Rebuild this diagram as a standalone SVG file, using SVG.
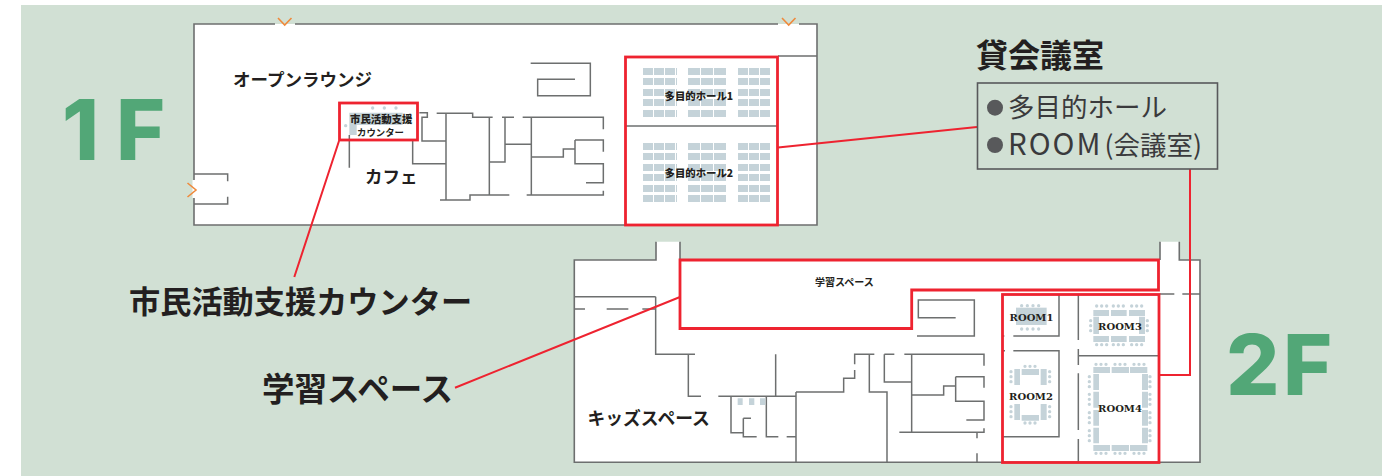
<svg xmlns="http://www.w3.org/2000/svg" width="1392" height="476" viewBox="0 0 1392 476">
<style>
text{font-family:"Noto Sans CJK JP","Liberation Sans",sans-serif;fill:#231f20;font-weight:700}
.z1{transform:translate(180px,0) scale(.33333)}
.z2{transform:translate(565px,235px) scale(.33333)}
.z3{transform:translate(985px,235px) scale(.33333)}
.w{fill:none;stroke:#6d6f6f;stroke-width:1.6}
.zw{fill:none;stroke:#6d6f6f;stroke-width:4.5}
.r{fill:none;stroke:#ee2330;stroke-width:2.8}
.c{fill:none;stroke:#ee2330;stroke-width:2}
.o{fill:none;stroke:#ef8a3c;stroke-width:1.6}
.s{fill:#c5d3d9}
.sr{fill:none;stroke:#c5d3d9;stroke-width:7;stroke-dasharray:10 1}
.d{fill:none;stroke:#c5d3d9;stroke-width:10;stroke-linecap:round;stroke-dasharray:0 15}
.big{font-size:31.2px}
.mid{font-size:17.5px}
.sm{font-size:10.4px;font-weight:900}
.room{font-family:"DejaVu Serif",serif;font-size:10px;text-anchor:middle}
.fl{font-family:Inter,"Liberation Sans",sans-serif;font-size:84px;fill:#52a777;font-weight:800}
.reg{font-size:26.500px;font-weight:400;fill:#3a3a3c}
</style>
<rect x="21" y="5" width="1361" height="471" fill="#d1e0d4"/>

<g id="floor-1f">
<rect x="194" y="24" width="623" height="201" fill="#fff"/>
<path class="w" d="M275,24H194V225H817V24H799M778,24H295M778,56H817"/>
<path d="M194,180V198" stroke="#fff" stroke-width="3"/>
<path class="zw z1" d="M42,522H143V544M42,612H143V590M1052,190H1231V287H1073V238H1185M508,405V503M718,338H742V352H726V423H798M770,340H878V352H938M798,340V600M698,420V491H798M780,600H870V585H988M928,352V585M928,486H975V352M966,352H1002M975,433H1054M1028,352H1270V388M1054,352V585M1040,585H1270V572M1054,471H1150V447H1185M1185,420H1270V455M1185,420V491H1270V548H1218"/>
<path class="o" d="M278,18L284.700,25L291.500,18M782,18L788.700,25L795.500,18M187.500,183L196,190L187.500,197"/>
</g>

<g id="counter">
<path class="s z1" d="M508,338H668V375H530V405H508Z"/>
<path class="d z1" style="stroke-dasharray:0 35" d="M578,324H650"/>
<path class="d z1" d="M497,377H498"/>
<rect class="r" x="339.500" y="103" width="78" height="37"/>
<text class="sm" x="350" y="123">市民活動支援</text>
<text x="357" y="135.500" font-size="9.400" font-weight="900">カウンター</text>
</g>

<g id="hall">
<path class="sr" d="M643,71.500H677M643,81.500H677M643,92.500H677M643,102.500H677M643,113.500H677M643,146.500H677M643,156.500H677M643,167.500H677M643,177.500H677M643,188.500H677M643,198.500H677"/>
<path class="sr" style="stroke-dasharray:12 1" d="M688,71.500H726M688,81.500H726M688,92.500H726M688,102.500H726M688,113.500H726M688,146.500H726M688,156.500H726M688,167.500H726M688,177.500H726M688,188.500H726M688,198.500H726"/>
<path class="sr" d="M738,71.500H770M738,81.500H770M738,92.500H770M738,102.500H770M738,113.500H770M738,146.500H770M738,156.500H770M738,167.500H770M738,177.500H770M738,188.500H770M738,198.500H770"/>
<path class="w" d="M625,126H777"/>
<rect class="r" x="625.500" y="57" width="152" height="168"/>
<text class="sm" x="664.500" y="100">多目的ホール1</text>
<text class="sm" x="664.500" y="177">多目的ホール2</text>
</g>

<text class="mid" x="233" y="86">オープンラウンジ</text>
<text class="mid" x="365" y="183">カフェ</text>

<g id="floor-2f">
<path d="M574.300,260H656V241.700H680V260H1160V241.700H1179.300V260H1200V462.300H574.300Z" fill="#fff"/>
<path class="w" d="M656,241.700V260H574.300V462.300H1200V260H1179.300V241.700M680,241.700V260M1160,241.700V260"/>
<path class="zw z2" d="M30,185H272M272,185V358H390M370,358V484H408M460,484H693M30,222H60M125,222H190M232,222H272M1172,248H1060V195H1228V303H1056M632,358V484M498,484V593H535M535,550H558M535,550V605H575M604,484V605H640M665,605H693M693,471V682M693,471H836V430H869V405M869,388V358H928M913,358V471H966V682M958,358H988M1018,358H1257V392M958,358V441H1040M1040,358V592M1040,480H1136V453H1172M1172,425H1257V458M1172,425V499H1257V555H1204M1003,592H1257V580M1236,592V610M1236,655V682"/>
<path class="s z2" d="M518,490H533V510H518ZM552,490H568V510H552ZM585,490H601V510H585Z"/>
<text x="815" y="285.500" font-size="10" font-weight="900">学習スペース</text>
<text x="587.500" y="425" font-size="17.800">キッズスペース</text>
<path class="r" d="M680,260H1158.500V290H911.700V328.500H680Z"/>
</g>

<g id="rooms">
<path class="zw z3" d="M222,178V303H85M52,303H58M52,347H60M85,347H222V605H52M280,178V315M280,342V390M280,415V585M280,612V682M280,362H520M525,177H568M592,177H645"/>
<g class="z3">
<path class="s" d="M93,218H185V270H93Z"/>
<path class="d" style="stroke-dasharray:0 17" d="M110,212H165M110,282H165"/>
<path class="s" d="M325,225H372V243H325ZM378,225H425V243H378ZM432,225H480V243H432ZM325,303H372V321H325ZM378,303H425V321H378ZM432,303H480V321H432ZM325,245H342V297H325ZM462,245H480V297H462Z"/>
<path class="d" d="M335,213H366M385,213H416M440,213H471M335,329H366M385,329H416M440,329H471M317,257V288M487,257V288"/>
<path class="s" d="M325,396H375V414H325ZM380,396H432V414H380ZM435,396H487V414H435ZM325,630H375V648H325ZM380,630H432V648H380ZM435,630H487V648H435ZM325,417H342V465H325ZM325,470H342V518H325ZM325,525H342V572H325ZM325,578H342V625H325ZM471,417H489V465H471ZM471,470H489V518H471ZM471,525H489V572H471ZM471,578H489V625H471Z"/>
<path class="d" d="M333,388H364M390,388H421M447,388H478M333,655H364M390,655H421M447,655H478M313,425V456M313,478V509M313,533V564M313,587V618M495,425V456M495,478V509M495,533V564M495,587V618"/>
<path class="s" d="M110,402H162V420H110ZM110,540H162V557H110ZM88,402H105V450H88ZM88,507H105V555H88ZM167,402H185V450H167ZM167,507H185V555H167Z"/>
<path class="d" d="M120,394H151M120,564H151M78,410V441M78,515V546M194,410V441M194,515V546"/>
</g>
<rect class="r" x="1002.500" y="294.500" width="156.500" height="168"/>
<text class="room" x="1031.500" y="320.500">ROOM1</text>
<text class="room" x="1120" y="329.500">ROOM3</text>
<text class="room" x="1031" y="399.500">ROOM2</text>
<text class="room" x="1120" y="412">ROOM4</text>
</g>

<g id="connectors">
<path class="c" d="M339,141L294.300,277M778,147.500L977,127M1190,169V375H1159M455,387.700L680,297"/>
</g>

<g id="legend">
<text x="976" y="67" font-size="32">貸会議室</text>
<rect x="977.500" y="83" width="240" height="86" fill="none" stroke="#58595b" stroke-width="1.600"/>
<circle cx="995" cy="107.700" r="8" fill="#58595b"/>
<circle cx="995" cy="145" r="8" fill="#58595b"/>
<text class="reg" x="1008" y="117">多目的ホール</text>
<text class="reg" x="1008" y="155"><tspan style="font-size:29.500px;letter-spacing:2px">ROOM</tspan><tspan dx="2">(会議室)</tspan></text>
</g>

<g id="label-counter"><text class="big" x="129" y="313">市民活動支援カウンター</text></g>
<g id="label-study"><text class="big" x="262" y="401" style="font-size:32.500px">学習スペース</text></g>
<g id="label-1f"><text class="fl" x="62 116" y="160">1F</text></g>
<g id="label-2f"><text class="fl" x="1226 1283" y="395">2F</text></g>
</svg>
